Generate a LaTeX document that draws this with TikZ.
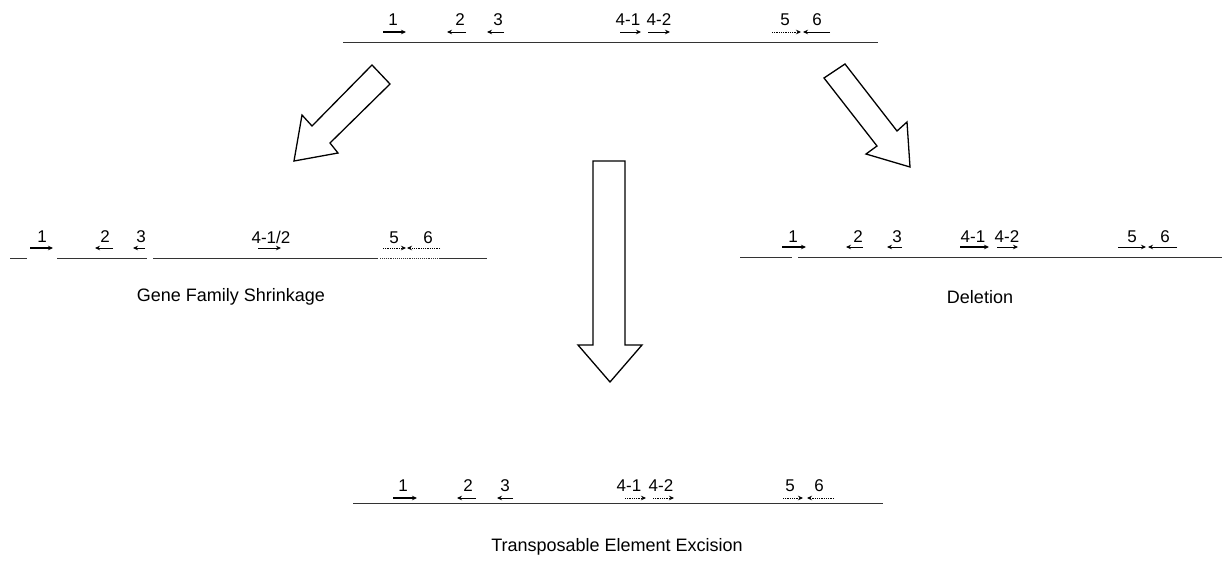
\documentclass[tikz,border=0pt]{standalone}
\usepackage{fontspec}
\setmainfont{Liberation Sans}
\usetikzlibrary{arrows.meta}

\tikzset{
  genelabel/.style={font=\fontsize{17}{17}\selectfont, inner sep=0pt},
  caption/.style={font=\fontsize{18}{18}\selectfont, inner sep=0pt},
  genearrow/.style={-{Stealth[length=5pt,width=4.5pt]}, line width=0.8pt},
  boldgene/.style={genearrow, line width=1.3pt},
  dotgene/.style={genearrow, densely dotted},
  dna/.style={line width=0.9pt, black!80},
  bigarrow/.style={line width=1.3pt, line join=miter, fill=white}
}

\begin{document}
\begin{tikzpicture}[x=1pt, y=-1pt]
    \useasboundingbox (0,0) rectangle (1223,565);

    % Ancestral region (top)
    \draw[dna] (343,42) -- (878,42);
    \node[genelabel] (t1) at (393,20) {1};
    \node[genelabel] (t2) at (460,20) {2};
    \node[genelabel] (t3) at (498,20) {3};
    \node[genelabel] (t41) at (628,20) {4-1};
    \node[genelabel] (t42) at (659,20) {4-2};
    \node[genelabel] (t5) at (785,20) {5};
    \node[genelabel] (t6) at (817,20) {6};
    \draw[boldgene] (383,32) -- (406,32);
    \draw[genearrow] (466,32) -- (447,32);
    \draw[genearrow] (504,32) -- (487,32);
    \draw[genearrow] (620,32) -- (641,32);
    \draw[genearrow] (648,32) -- (670,32);
    \draw[dotgene] (772,32) -- (801,32);
    \draw[genearrow] (830,32) -- (803,32);

    % Big arrows
    \draw[bigarrow] (372,65) -- (390,84) -- (330,143) -- (338,153)
        -- (294,161) -- (302,115) -- (312,126) -- cycle;
    \draw[bigarrow] (824,78) -- (845,64) -- (897,131) -- (907,122)
        -- (910,167) -- (866,154) -- (877,146) -- cycle;
    \draw[bigarrow] (593,161) -- (625,161) -- (625,345) -- (642,345)
        -- (610,382) -- (578,345) -- (593,345) -- cycle;

    % Gene family shrinkage (left)
    \draw[dna] (10,258) -- (27,258);
    \draw[dna] (57,258) -- (147,258);
    \draw[dna] (153,258) -- (378,258);
    \draw[dna, densely dotted] (380,258) -- (440,258);
    \draw[dna] (440,258) -- (487,258);
    \node[genelabel] (l1) at (42,237) {1};
    \node[genelabel] (l2) at (105,237) {2};
    \node[genelabel] (l3) at (141,237) {3};
    \node[genelabel] (l412) at (271,237) {4-1/2};
    \node[genelabel] (l5) at (394,238) {5};
    \node[genelabel] (l6) at (428,238) {6};
    \draw[boldgene] (30,248) -- (53,248);
    \draw[genearrow] (113,248) -- (95,248);
    \draw[genearrow] (145,248) -- (133,248);
    \draw[genearrow] (258,248) -- (281,248);
    \draw[dotgene] (383,248) -- (406,248);
    \draw[dotgene] (440,248) -- (407,248);
    \node[caption] (shrink) at (231,297) {Gene Family Shrinkage};

    % Deletion (right)
    \draw[dna] (740,257) -- (792,257);
    \draw[dna] (798,257) -- (1222,257);
    \node[genelabel] (r1) at (793,237) {1};
    \node[genelabel] (r2) at (858,237) {2};
    \node[genelabel] (r3) at (897,237) {3};
    \node[genelabel] (r41) at (973,237) {4-1};
    \node[genelabel] (r42) at (1007,237) {4-2};
    \node[genelabel] (r5) at (1132,237) {5};
    \node[genelabel] (r6) at (1165,237) {6};
    \draw[boldgene] (782,247) -- (806,247);
    \draw[genearrow] (863,247) -- (846,247);
    \draw[genearrow] (902,247) -- (887,247);
    \draw[boldgene] (960,247) -- (989,247);
    \draw[genearrow] (997,247) -- (1018,247);
    \draw[genearrow] (1118,247) -- (1146,247);
    \draw[genearrow] (1177,247) -- (1148,247);
    \node[caption] (deletion) at (980,297) {Deletion};

    % Transposable element excision (bottom)
    \draw[dna] (353,503) -- (883,503);
    \node[genelabel] (b1) at (403,486) {1};
    \node[genelabel] (b2) at (468,486) {2};
    \node[genelabel] (b3) at (505,486) {3};
    \node[genelabel] (b41) at (629,486) {4-1};
    \node[genelabel] (b42) at (661,486) {4-2};
    \node[genelabel] (b5) at (790,486) {5};
    \node[genelabel] (b6) at (819,486) {6};
    \draw[boldgene] (393,498) -- (417,498);
    \draw[genearrow] (476,498) -- (457,498);
    \draw[genearrow] (513,498) -- (497,498);
    \draw[dotgene] (625,498) -- (646,498);
    \draw[dotgene] (653,498) -- (674,498);
    \draw[dotgene] (783,498) -- (803,498);
    \draw[dotgene] (834,498) -- (807,498);
    \node[caption] (excision) at (617,547) {Transposable Element Excision};
\end{tikzpicture}
\end{document}
